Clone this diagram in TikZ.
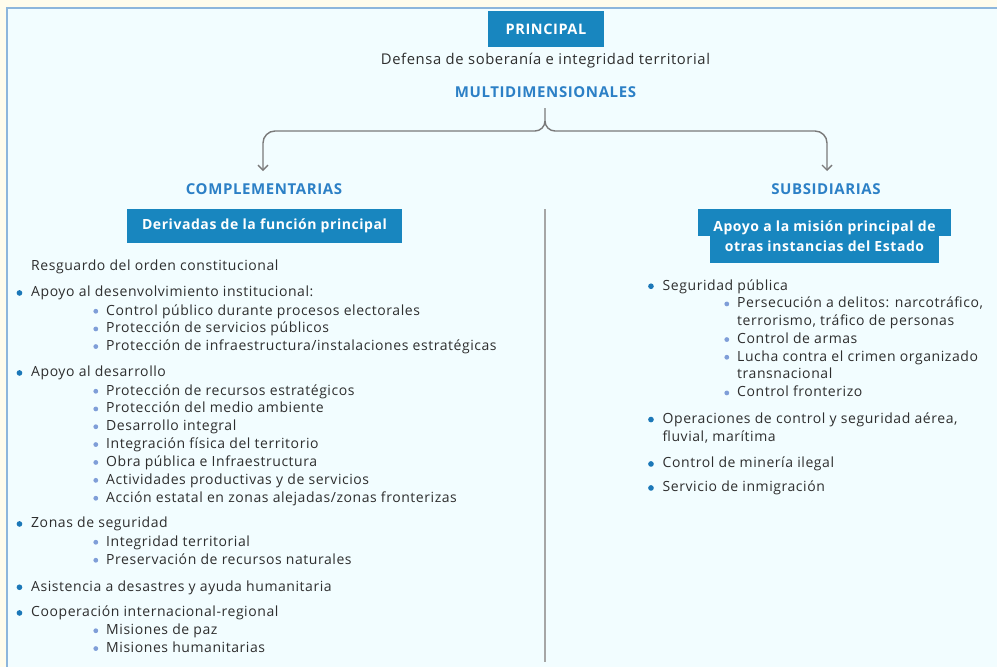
\documentclass[tikz,border=0pt]{standalone}
\usepackage{fontspec}
\setmainfont[LetterSpace=4]{Open Sans}
\usepackage{tikz}
\usetikzlibrary{arrows,arrows.meta,positioning}
\definecolor{outerbg}{HTML}{FFFCEC}
\definecolor{innerbg}{HTML}{F2FDFF}
\definecolor{framebl}{HTML}{8DB6DC}
\definecolor{boxblue}{HTML}{1886BF}
\definecolor{headblue}{HTML}{2C80C6}
\definecolor{txtgray}{HTML}{2E2E2E}
\definecolor{dotA}{HTML}{1C78B8}
\definecolor{dotB}{HTML}{7F9ED8}
\definecolor{lnGray}{HTML}{7A7A7A}

\begin{document}
\begin{tikzpicture}[x=1pt,y=-1pt,
  bluebox/.style={fill=boxblue, text=white, font=\fontsize{14}{16}\selectfont\bfseries, inner sep=0},
  head/.style={text=headblue, font=\fontsize{15}{17}\selectfont\bfseries},
  itm/.style={anchor=base west, inner sep=0, text height=10pt, text depth=2.5pt, text=txtgray, font=\fontsize{14}{16}\selectfont},
  lvlA/.style={itm, label={[circle, fill=dotA, inner sep=2pt, label distance=8.5pt]left:{}}},
  lvlB/.style={itm, label={[circle, fill=dotB, inner sep=1.7pt, label distance=7.6pt]left:{}}},
  brc/.style={lnGray, line width=1.4pt, >={Straight Barb[length=5pt,width=10pt]}}]
\useasboundingbox (0,0) rectangle (997,667);
\fill[outerbg] (0,0) rectangle (997,667);
\fill[innerbg] (7,8) rectangle (997,667);
\draw[framebl, line width=1.6pt] (7,667) -- (7,8) -- (997,8);

\node[bluebox, minimum width=116, minimum height=36, font=\fontsize{14.5}{16}\selectfont\bfseries] (principal) at (546,29) {PRINCIPAL};
\node[text=txtgray, font=\fontsize{14.8}{17}\selectfont] (defensa) at (545.5,61) {Defensa de soberanía e integridad territorial};
\node[head] (multi) at (545.5,92) {MULTIDIMENSIONALES};

\node[head] (comp) at (264,189) {COMPLEMENTARIAS};
\node[head] (subs) at (826,189) {SUBSIDIARIAS};
\coordinate (stem) at (545,108);
\coordinate (compTip) at (263,171);
\coordinate (subsTip) at (827,171);
\draw[brc,->] (stem) -- (545,121) to[out=-90,in=0] (535,131) -- (275,131)
  to[out=180,in=90] (263,143) -- (compTip);
\draw[brc,->] (545,121) to[out=-90,in=180] (555,131) -- (815,131)
  to[out=0,in=90] (827,143) -- (subsTip);

\node[bluebox, minimum width=275, minimum height=34] (deriv) at (264.5,226) {Derivadas de la función principal};
\node[bluebox, minimum width=253, minimum height=27, text height=18pt, text depth=0pt] (apoyoA) at (824.5,222.5) {Apoyo a la misión principal de};
\node[bluebox, minimum width=229, minimum height=27, text height=10pt, text depth=7pt, below=0pt of apoyoA] (apoyoB) {otras instancias del Estado};

\coordinate (divtop) at (545,209);
\coordinate (divbot) at (545,662);
\draw[gray!70, line width=1.3pt] (divtop) -- (divbot);

% complementarias
\node[itm] (r0) at (31,270) {Resguardo del orden constitucional};
\node[lvlA] (a1) at (31,296.7) {Apoyo al desenvolvimiento institucional:};
\node[lvlB] (a11) at (106,315) {Control público durante procesos electorales};
\node[lvlB] (a12) at (106,332.7) {Protección de servicios públicos};
\node[lvlB] (a13) at (106,350.3) {Protección de infraestructura/instalaciones estratégicas};
\node[lvlA] (a2) at (31,376.7) {Apoyo al desarrollo};
\node[lvlB] (a21) at (106,395) {Protección de recursos estratégicos};
\node[lvlB] (a22) at (106,412.7) {Protección del medio ambiente};
\node[lvlB] (a23) at (106,430.5) {Desarrollo integral};
\node[lvlB] (a24) at (106,448.3) {Integración física del territorio};
\node[lvlB] (a25) at (106,466.2) {Obra pública e Infraestructura};
\node[lvlB] (a26) at (106,484.1) {Actividades productivas y de servicios};
\node[lvlB] (a27) at (106,502) {Acción estatal en zonas alejadas/zonas fronterizas};
\node[lvlA] (a3) at (31,527.7) {Zonas de seguridad};
\node[lvlB] (a31) at (106,546) {Integridad territorial};
\node[lvlB] (a32) at (106,564) {Preservación de recursos naturales};
\node[lvlA] (a4) at (31,591) {Asistencia a desastres y ayuda humanitaria};
\node[lvlA] (a5) at (31,616.7) {Cooperación internacional-regional};
\node[lvlB] (a51) at (106,634.5) {Misiones de paz};
\node[lvlB] (a52) at (106,652.3) {Misiones humanitarias};

% subsidiarias
\node[lvlA] (b1) at (662.5,290) {Seguridad pública};
\node[lvlB] (b11) at (737,307.7) {Persecución a delitos: narcotráfico,};
\node[itm] (b11x) at (737,325.5) {terrorismo, tráfico de personas};
\node[lvlB] (b12) at (737,343.3) {Control de armas};
\node[lvlB] (b13) at (737,361) {Lucha contra el crimen organizado};
\node[itm] (b13x) at (737,378.6) {transnacional};
\node[lvlB] (b14) at (737,396.7) {Control fronterizo};
\node[lvlA] (b2) at (662.5,423.3) {Operaciones de control y seguridad aérea,};
\node[itm] (b2x) at (662.5,441.7) {fluvial, marítima};
\node[lvlA] (b3) at (662.5,467.7) {Control de minería ilegal};
\node[lvlA] (b4) at (662.5,491.7) {Servicio de inmigración};
\end{tikzpicture}
\end{document}
